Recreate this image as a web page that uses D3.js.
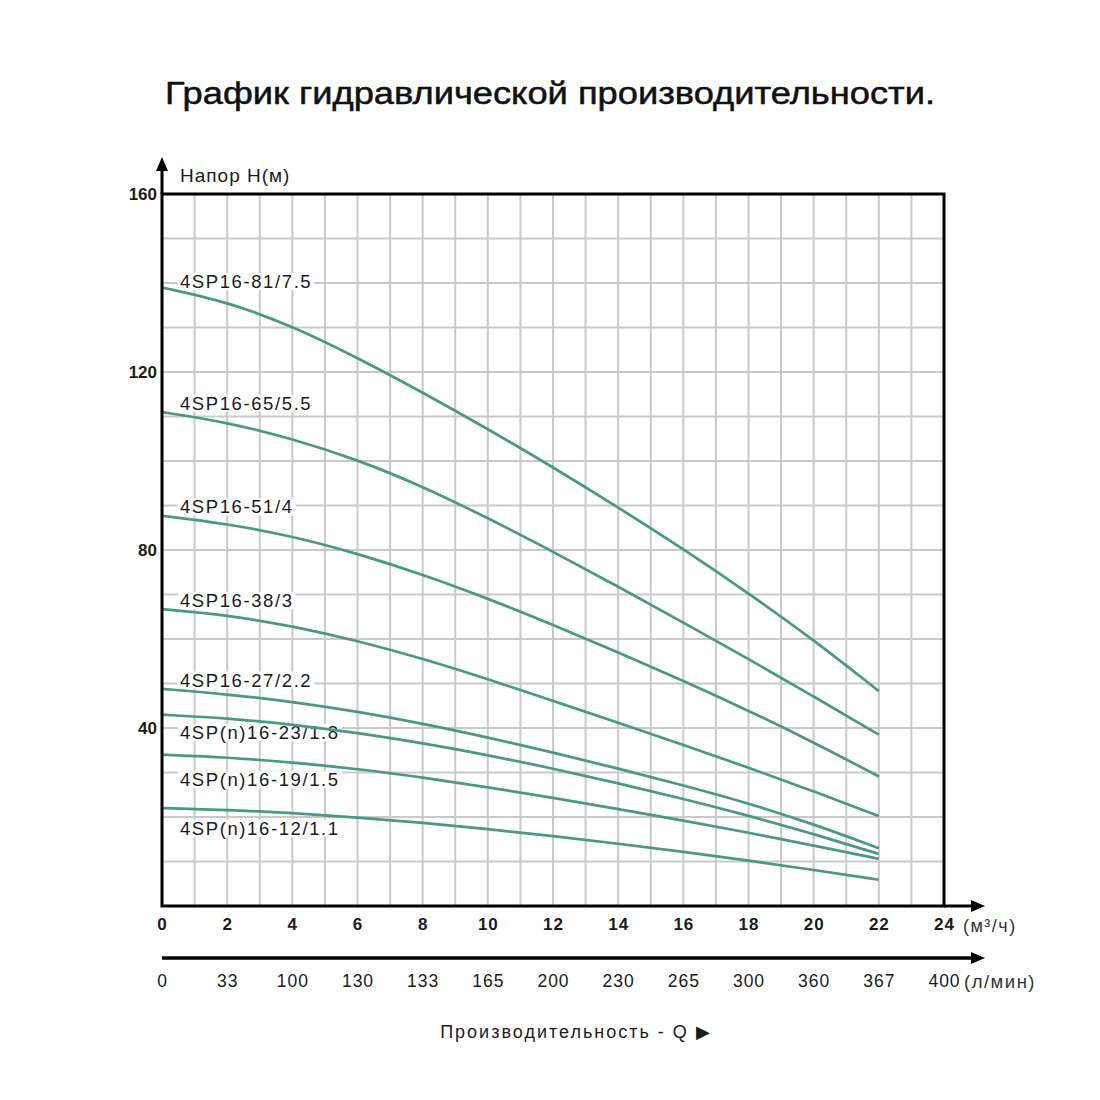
<!DOCTYPE html>
<html>
<head>
<meta charset="utf-8">
<script src="https://cdn.jsdelivr.net/npm/d3@7"></script>
<style>
    body { margin: 0; background: #ffffff; }
    svg { display: block; }
</style>
</head>
<body>
<svg id="drawing_region"></svg>
<script>
// flow points, m3/h
const flow_m3h = [0, 2, 4, 6, 8, 10, 12, 14, 16, 18, 20, 22];

// head values H (m)
const head_81 = [139, 135.8, 130.3, 123.2, 115.4, 107.2, 98.6, 89.6, 80.2, 70.3, 59.8, 48.3];
const head_65 = [111, 108.7, 105, 100.3, 94.3, 87.2, 79.6, 71.8, 63.7, 55.5, 47.1, 38.5];
const head_51 = [87.7, 85.9, 83.1, 79.2, 74.5, 69.1, 63.2, 57.0, 50.6, 43.9, 36.8, 29.1];
const head_38 = [66.7, 65.4, 62.9, 59.6, 55.6, 51.0, 46.1, 41.2, 36.2, 31.1, 25.8, 20.2];
const head_27 = [48.8, 47.6, 45.9, 43.7, 41.0, 37.9, 34.5, 30.9, 27.1, 23.1, 18.4, 13.0];
const head_23 = [43, 42.2, 40.8, 38.9, 36.6, 33.9, 30.9, 27.6, 24.1, 20.3, 16.2, 11.7];
const head_19 = [34, 33.4, 32.3, 30.8, 28.9, 26.7, 24.3, 21.8, 19.2, 16.5, 13.6, 10.6];
const head_12 = [22, 21.6, 20.9, 19.9, 18.7, 17.3, 15.7, 14.0, 12.2, 10.2, 8.1, 5.9];

const model_names = ['4SP16-81/7.5', '4SP16-65/5.5', '4SP16-51/4', '4SP16-38/3',
                     '4SP16-27/2.2', '4SP(n)16-23/1.8', '4SP(n)16-19/1.5', '4SP(n)16-12/1.1'];

const y_ticks = [40, 80, 120, 160];
const x_ticks_m3h = [0, 2, 4, 6, 8, 10, 12, 14, 16, 18, 20, 22, 24];
const x_ticks_lmin = ['0', '33', '100', '130', '133', '165', '200', '230', '265', '300', '360', '367', '400'];

const series = [head_81, head_65, head_51, head_38, head_27, head_23, head_19, head_12]
    .map( (h, i) => ({ name: model_names[i], values: flow_m3h.map( (q, j) => ({ x: q, y: h[j] }) ) }) );

class PumpChart {

    constructor( config, data ) {
        this.config = {
            parent: config.parent,
            width: config.width || 1100,
            height: config.height || 1100,
            margin: config.margin || {top:194, right:156, bottom:194, left:162}
        }
        this.data = data;
        this.init();
    }

    init() {
        let self = this;

        self.svg = d3.select( self.config.parent )
            .attr('width', self.config.width)
            .attr('height', self.config.height);

        self.inner_width = self.config.width - self.config.margin.left - self.config.margin.right;
        self.inner_height = self.config.height - self.config.margin.top - self.config.margin.bottom;

        self.chart = self.svg.append('g')
            .attr('transform', `translate(${self.config.margin.left}, ${self.config.margin.top})`);

        self.xscale = d3.scaleLinear()
            .domain( [0, 24] )
            .range( [0, self.inner_width] );

        self.yscale = d3.scaleLinear()
            .domain( [0, 160] )
            .range( [self.inner_height, 0] );

        self.line = d3.line()
            .x( d => self.xscale( d.x ) )
            .y( d => self.yscale( d.y ) )
            .curve( d3.curveBasis );

        // label offsets from the start of each curve (px)
        self.label_dy = [-6, -9, -9, -9, -9, 18, 25, 20];
    }

    render() {
        let self = this;
        const font = "'Liberation Sans', Arial, sans-serif";
        const ink = '#1b1b1b';

        // title
        self.svg.append('text')
            .attr('x', 550)
            .attr('y', 104)
            .attr('text-anchor', 'middle')
            .attr('font-family', "'Liberation Sans Narrow', 'Liberation Sans', Arial, sans-serif")
            .attr('font-size', 31)
            .attr('fill', '#111')
            .attr('stroke', '#111')
            .attr('stroke-width', 0.5)
            .attr('textLength', 770)
            .attr('lengthAdjust', 'spacingAndGlyphs')
            .text('График гидравлической производительности.');

        // grid
        self.chart.append('g')
            .selectAll('line')
            .data( self.xscale.ticks(24) )
            .join('line')
            .attr('x1', d => self.xscale(d))
            .attr('x2', d => self.xscale(d))
            .attr('y1', 0)
            .attr('y2', self.inner_height)
            .attr('stroke', '#c9c9c9')
            .attr('stroke-width', 2);

        self.chart.append('g')
            .selectAll('line')
            .data( self.yscale.ticks(16) )
            .join('line')
            .attr('x1', 0)
            .attr('x2', self.inner_width)
            .attr('y1', d => self.yscale(d))
            .attr('y2', d => self.yscale(d))
            .attr('stroke', '#c9c9c9')
            .attr('stroke-width', 2);

        // labels with white backing
        const labels = self.chart.append('g')
            .selectAll('g')
            .data( self.data )
            .join('g')
            .attr('transform', (d, i) => `translate(${self.xscale(0.55)}, ${self.yscale(d.values[0].y) + self.label_dy[i]})`);

        labels.append('text')
            .attr('dy', '0.36em')
            .attr('font-family', font)
            .attr('font-size', 18.5)
            .attr('letter-spacing', 1.6)
            .attr('fill', ink)
            .text( d => d.name );

        labels.insert('rect', 'text')
            .each( function() {
                const bb = this.parentNode.querySelector('text').getBBox();
                d3.select(this)
                    .attr('x', bb.x - 2)
                    .attr('y', bb.y + 2)
                    .attr('width', bb.width + 4)
                    .attr('height', bb.height - 4);
            })
            .attr('fill', '#ffffff');

        // curves
        self.chart.append('g')
            .selectAll('path')
            .data( self.data )
            .join('path')
            .attr('d', d => self.line(d.values))
            .attr('fill', 'none')
            .attr('stroke', '#4a9886')
            .attr('stroke-width', 2.7);

        // frame
        self.chart.append('rect')
            .attr('x', 0)
            .attr('y', 0)
            .attr('width', self.inner_width)
            .attr('height', self.inner_height)
            .attr('fill', 'none')
            .attr('stroke', '#000')
            .attr('stroke-width', 3);

        // axis arrows
        const tip_x = self.inner_width + 41;
        const axis2_y = self.inner_height + 52;

        self.chart.append('line')
            .attr('x1', 0).attr('x2', 0)
            .attr('y1', 0).attr('y2', -26)
            .attr('stroke', '#000').attr('stroke-width', 3);
        self.chart.append('path')
            .attr('d', `M0,-37 L-6,-23 L6,-23 Z`)
            .attr('fill', '#000');

        self.chart.append('line')
            .attr('x1', self.inner_width).attr('x2', tip_x - 10)
            .attr('y1', self.inner_height).attr('y2', self.inner_height)
            .attr('stroke', '#000').attr('stroke-width', 3);
        self.chart.append('path')
            .attr('d', `M${tip_x},${self.inner_height} L${tip_x - 14},${self.inner_height - 6} L${tip_x - 14},${self.inner_height + 6} Z`)
            .attr('fill', '#000');

        self.chart.append('line')
            .attr('x1', 0).attr('x2', tip_x - 10)
            .attr('y1', axis2_y).attr('y2', axis2_y)
            .attr('stroke', '#000').attr('stroke-width', 3.5);
        self.chart.append('path')
            .attr('d', `M${tip_x},${axis2_y} L${tip_x - 14},${axis2_y - 6} L${tip_x - 14},${axis2_y + 6} Z`)
            .attr('fill', '#000');

        // y axis ticks
        const yaxis = self.chart.append('g')
            .call( d3.axisLeft( self.yscale ).tickValues( y_ticks ).tickSize(0).tickPadding(5) );
        yaxis.select('.domain').remove();
        yaxis.selectAll('text')
            .attr('font-family', font)
            .attr('font-size', 17)
            .attr('font-weight', 'bold')
            .attr('fill', ink);

        // x axis (m3/h)
        const xaxis = self.chart.append('g')
            .attr('transform', `translate(0, ${self.inner_height})`)
            .call( d3.axisBottom( self.xscale ).tickValues( x_ticks_m3h ).tickSize(0).tickPadding(12) );
        xaxis.select('.domain').remove();
        xaxis.selectAll('text')
            .attr('font-family', font)
            .attr('font-size', 17)
            .attr('font-weight', 'bold')
            .attr('letter-spacing', 1)
            .attr('fill', ink);

        // x axis (l/min)
        const xaxis2 = self.chart.append('g')
            .attr('transform', `translate(0, ${axis2_y})`)
            .call( d3.axisBottom( self.xscale ).tickValues( x_ticks_m3h ).tickSize(0).tickPadding(17)
                .tickFormat( (d, i) => x_ticks_lmin[i] ) );
        xaxis2.select('.domain').remove();
        xaxis2.selectAll('text')
            .attr('font-family', font)
            .attr('font-size', 17.5)
            .attr('letter-spacing', 1)
            .attr('fill', ink);

        // unit labels
        self.chart.append('text')
            .attr('x', self.inner_width + 19)
            .attr('y', self.inner_height + 26)
            .attr('font-family', font)
            .attr('font-size', 18)
            .attr('letter-spacing', 1.5)
            .attr('fill', '#333')
            .text('(м³/ч)');

        self.chart.append('text')
            .attr('x', self.inner_width + 20)
            .attr('y', axis2_y + 30)
            .attr('font-family', font)
            .attr('font-size', 18.5)
            .attr('letter-spacing', 1.5)
            .attr('fill', '#333')
            .text('(л/мин)');

        self.chart.append('text')
            .attr('x', 18)
            .attr('y', -12)
            .attr('font-family', font)
            .attr('font-size', 19)
            .attr('letter-spacing', 1)
            .attr('fill', ink)
            .text('Напор H(м)');

        self.chart.append('text')
            .attr('x', 414)
            .attr('y', axis2_y + 80)
            .attr('text-anchor', 'middle')
            .attr('font-family', font)
            .attr('font-size', 18)
            .attr('letter-spacing', 2)
            .attr('fill', ink)
            .text('Производительность - Q ▶');
    }
}

const config = {
    parent: '#drawing_region',
    width: 1100,
    height: 1100,
    margin: {top:194, right:156, bottom:194, left:162}
};

const pump_chart = new PumpChart( config, series );
pump_chart.render();
</script>
</body>
</html>
